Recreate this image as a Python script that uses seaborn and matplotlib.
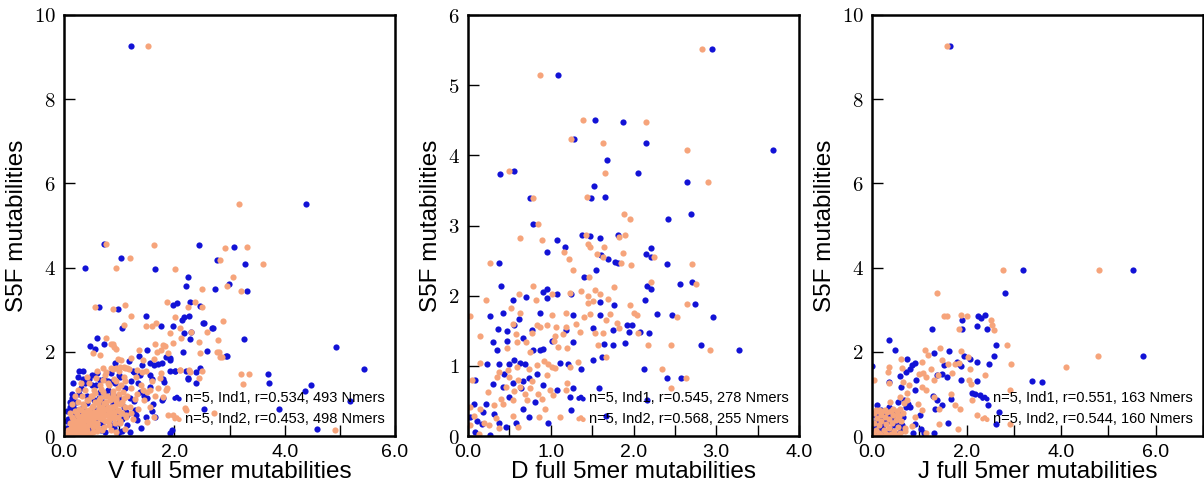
import numpy as np
import pandas as pd
import matplotlib
matplotlib.use("Agg")
import matplotlib.pyplot as plt
import seaborn as sns

# ---------------- DATA ----------------
panel_xlabels = ["V full 5mer mutabilities", "D full 5mer mutabilities", "J full 5mer mutabilities"]
ylabel = "S5F mutabilities"
legend_ind1 = ["n=5, Ind1, r=0.534, 493 Nmers", "n=5, Ind1, r=0.545, 278 Nmers", "n=5, Ind1, r=0.551, 163 Nmers"]
legend_ind2 = ["n=5, Ind2, r=0.453, 498 Nmers", "n=5, Ind2, r=0.568, 255 Nmers", "n=5, Ind2, r=0.544, 160 Nmers"]

# Panel V, Ind1 (blue)
v1_x = [1.21, 4.39, 0.72, 1.03, 0.38, 1.65, 2.44, 3.08, 2.77, 3.29, 2.25, 2.21, 2.74, 2.99, 3.32, 0.64, 0.98, 1.49,
        2.04, 1.98, 2.29, 2.47, 2.18, 2.26, 2.13, 1.76, 1.97, 2.52, 2.70, 1.05, 2.30, 2.17, 2.28, 3.26, 0.60, 0.47,
        0.56, 1.50, 2.16, 2.59, 2.94, 4.93, 5.44, 3.70, 3.72, 4.48, 4.37, 3.90, 4.59, 5.18, 1.95, 2.54, 2.47, 2.25,
        1.92, 2.02, 1.79, 1.77, 1.92, 0.28, 0.72, 0.92, 1.17, 1.36, 1.42, 1.56, 1.63, 1.85, 1.92, 2.01, 2.22, 2.40,
        2.24, 2.39, 0.34, 0.50, 0.65, 0.80, 1.00, 1.21, 1.26, 1.37, 1.60, 1.81, 1.55, 1.38, 1.50, 1.77, 1.61, 1.29,
        1.26, 0.98, 1.14, 1.49, 1.65, 1.32, 1.92, 1.20, 0.21, 0.17, 0.38, 0.11, 2.95, 2.53, 2.68,
        0.02, 0.05, 0.08, 0.10, 0.12, 0.15, 0.18, 0.20, 0.22, 0.25, 0.28, 0.30, 0.32, 0.35, 0.38, 0.40, 0.42, 0.45,
        0.47, 0.50, 0.52, 0.55, 0.58, 0.60, 0.62, 0.65, 0.68, 0.70, 0.72, 0.75, 0.78, 0.80, 0.82, 0.85, 0.88, 0.90,
        0.92, 0.95, 0.98, 1.00, 1.02, 1.05, 1.08, 1.10, 1.15, 1.20, 1.25, 1.30, 1.35, 1.40, 1.45, 1.55, 1.60, 1.70,
        1.80, 0.15, 0.10, 0.25, 0.05, 0.35,
        0.06, 0.11, 0.16, 0.19, 0.24, 0.27, 0.33, 0.36, 0.41, 0.44, 0.48, 0.53, 0.57, 0.63, 0.67, 0.71, 0.76, 0.83,
        0.87, 0.93, 0.97, 1.04, 1.12, 0.14, 0.31, 0.46, 0.58, 0.74, 0.89, 1.06]
v1_y = [9.26, 5.51, 4.56, 4.22, 3.99, 3.96, 4.53, 4.49, 4.18, 4.08, 3.77, 3.57, 3.48, 3.62, 3.44, 3.07, 3.01, 2.86,
        3.17, 3.10, 3.19, 3.09, 2.83, 2.86, 2.76, 2.61, 2.61, 2.68, 2.56, 2.56, 2.46, 2.44, 2.30, 2.30, 2.33, 2.13,
        2.06, 2.05, 2.00, 2.01, 1.89, 2.11, 1.58, 1.47, 1.27, 1.21, 1.08, 0.64, 0.16, 0.82, 0.14, 0.63, 1.61, 1.37,
        1.54, 1.55, 1.35, 1.73, 1.85, 1.54, 2.19, 1.73, 1.79, 1.90, 1.69, 1.74, 1.69, 1.87, 1.81, 1.55, 1.55, 1.51,
        1.36, 1.25, 1.35, 1.45, 1.33, 1.30, 1.44, 1.31, 1.53, 1.45, 1.35, 1.29, 1.17, 1.05, 0.91, 0.86, 0.75, 0.62,
        0.82, 0.82, 0.50, 0.44, 0.44, 0.38, 0.06, 0.10, 0.40, 1.25, 1.25, 0.70, 1.90, 2.68, 2.56,
        0.02, 0.20, 0.40, 0.10, 0.60, 0.30, 0.05, 0.50, 0.80, 0.20, 1.00, 0.45, 0.10, 0.70, 1.30, 0.30, 0.95, 0.05,
        0.60, 1.20, 0.35, 0.85, 0.15, 1.50, 0.60, 1.05, 0.30, 0.80, 1.35, 0.10, 0.55, 1.10, 0.35, 1.50, 0.75, 0.20,
        1.25, 0.50, 0.95, 0.10, 1.40, 0.40, 0.70, 1.15, 0.25, 0.90, 1.55, 0.50, 1.25, 0.20, 0.95, 1.45, 0.60, 1.70,
        0.90, 1.00, 0.80, 1.40, 0.60, 1.55,
        0.35, 0.15, 0.70, 0.42, 0.62, 0.08, 0.55, 0.25, 0.78, 0.48, 0.20, 0.66, 0.40, 0.90, 0.15, 0.55, 0.72, 0.25,
        0.98, 0.60, 0.30, 0.85, 0.58, 0.90, 1.15, 1.35, 1.20, 1.00, 1.30, 0.12]

# Panel V, Ind2 (orange)
v2_x = [1.53, 3.18, 0.76, 1.64, 2.91, 3.32, 1.20, 2.83, 3.61, 0.94, 2.02, 3.07, 2.96, 2.51, 3.20, 1.86, 2.37, 1.11,
        0.56, 0.89, 2.50, 2.25, 1.21, 2.02, 2.89, 1.67, 1.48, 1.59, 1.09, 2.10, 2.60, 2.31, 1.92, 2.79, 2.12, 0.77,
        1.65, 1.80, 1.97, 0.88, 2.81, 2.47, 2.83, 3.21, 3.35, 3.24, 4.92, 2.21, 2.11, 2.27, 2.51, 2.44, 1.50, 1.63,
        0.86, 0.91, 0.95, 0.53, 0.65, 0.98, 1.03, 1.21, 1.36, 1.44, 1.83, 1.89, 1.68, 1.76, 1.64, 2.77, 2.87, 2.45,
        2.10, 2.28, 0.77, 0.89, 1.01, 1.08, 1.14, 1.32, 1.41, 0.41, 0.71, 1.56, 1.86, 1.80, 1.89, 1.98, 2.19, 2.71,
        0.95, 1.11, 1.43, 1.74,
        0.05, 0.08, 0.10, 0.12, 0.15, 0.15, 0.18, 0.20, 0.20, 0.22, 0.24, 0.25, 0.26, 0.28, 0.30, 0.30, 0.32, 0.33,
        0.35, 0.35, 0.37, 0.38, 0.40, 0.40, 0.42, 0.43, 0.45, 0.45, 0.47, 0.48, 0.50, 0.50, 0.52, 0.53, 0.55, 0.55,
        0.57, 0.58, 0.60, 0.60, 0.62, 0.63, 0.65, 0.66, 0.68, 0.70, 0.70, 0.72, 0.73, 0.75, 0.76, 0.78, 0.80, 0.80,
        0.82, 0.84, 0.85, 0.86, 0.88, 0.90, 0.90, 0.92, 0.95, 0.97, 1.00, 1.00, 1.02, 1.05, 1.07, 1.10, 1.12, 1.15,
        1.18, 1.20, 1.22, 1.25, 1.28, 1.30, 1.33, 1.35, 1.40, 1.45, 1.48, 1.50, 1.55, 1.60, 1.65, 1.70, 1.75, 1.85,
        0.60, 0.70, 0.85, 0.95, 1.10, 0.25, 0.30, 0.20, 0.15, 0.10,
        0.12, 0.14, 0.17, 0.19, 0.21, 0.23, 0.26, 0.27, 0.29, 0.31, 0.34, 0.35, 0.37, 0.39, 0.41, 0.44, 0.45, 0.47,
        0.49, 0.52, 0.53, 0.55, 0.57, 0.60, 0.61, 0.63, 0.66, 0.67, 0.69, 0.71, 0.74, 0.75, 0.77, 0.79, 0.82, 0.83,
        0.85, 0.88, 0.89, 0.91, 0.94, 0.95, 0.97, 0.99, 1.02, 1.03, 1.05, 1.08, 1.09, 1.11,
        0.22, 0.27, 0.30, 0.34, 0.39, 0.42, 0.46, 0.51, 0.54, 0.58, 0.62, 0.67, 0.70, 0.74, 0.79, 0.82, 0.86, 0.91,
        0.94, 0.98, 0.31, 0.40, 0.52, 0.61, 0.69, 0.81, 0.92, 1.01, 1.13, 1.21]
v2_y = [9.26, 5.51, 4.56, 4.53, 4.46, 4.50, 4.22, 4.18, 4.08, 3.99, 3.96, 3.77, 3.57, 3.48, 3.44, 3.19, 3.19, 3.10,
        3.07, 3.01, 3.07, 3.07, 2.86, 2.83, 2.74, 2.69, 2.61, 2.61, 2.64, 2.56, 2.46, 2.46, 2.44, 2.28, 2.32, 2.33,
        2.18, 2.16, 2.20, 2.18, 2.00, 1.96, 1.88, 1.47, 1.47, 1.23, 0.14, 0.62, 1.57, 1.57, 1.54, 1.37, 0.34, 0.46,
        2.19, 2.12, 2.06, 1.96, 1.92, 1.84, 1.81, 1.86, 2.04, 1.81, 2.14, 1.96, 2.00, 2.04, 1.82, 2.00, 1.88, 2.24,
        1.57, 1.53, 1.53, 1.58, 1.63, 1.65, 1.61, 1.57, 1.53, 1.41, 1.33, 1.09, 1.15, 0.93, 0.50, 0.50, 0.66, 0.54,
        0.10, 0.16, 1.09, 1.37,
        0.05, 0.15, 0.30, 0.08, 0.22, 0.45, 0.12, 0.35, 0.60, 0.05, 0.25, 0.48, 0.80, 0.15, 0.38, 0.62, 0.95, 0.08,
        0.28, 0.50, 0.72, 1.10, 0.18, 0.42, 0.60, 0.85, 0.30, 1.25, 0.50, 0.05, 0.70, 0.95, 0.22, 0.40, 0.58, 1.10,
        0.80, 1.38, 0.12, 0.32, 0.50, 0.68, 0.90, 1.20, 0.40, 0.60, 1.05, 0.22, 0.78, 1.45, 0.50, 0.95, 0.35, 0.68,
        1.20, 0.85, 0.15, 0.55, 1.00, 0.42, 1.35, 0.72, 0.90, 1.15, 0.60, 1.55, 0.30, 0.80, 1.05, 1.30, 0.50, 0.95,
        1.60, 0.70, 1.15, 0.40, 0.88, 1.40, 1.00, 0.65, 1.20, 0.85, 1.55, 1.05, 0.70, 1.30, 0.95, 1.15, 1.50, 1.10,
        1.55, 1.62, 1.62, 1.62, 1.62, 1.10, 1.25, 0.95, 0.75, 0.55,
        0.20, 0.10, 0.40, 0.28, 0.18, 0.52, 0.35, 0.65, 0.25, 0.45, 0.75, 0.12, 0.58, 0.38, 0.85, 0.25, 0.62, 0.45,
        0.95, 0.32, 0.72, 0.48, 1.02, 0.28, 0.60, 0.85, 0.42, 1.12, 0.70, 0.52, 0.95, 0.35, 0.80, 1.25, 0.60, 0.45,
        0.90, 1.08, 0.70, 0.50, 1.30, 0.82, 0.62, 1.00, 0.75, 1.22, 0.55, 0.90, 1.40, 0.68,
        0.05, 0.12, 0.22, 0.30, 0.48, 0.15, 0.40, 0.55, 0.30, 0.45, 0.78, 0.60, 0.40, 0.65, 0.52, 0.38, 0.70, 0.58,
        0.85, 0.45, 0.02, 0.08, 0.10, 0.20, 0.15, 0.25, 0.30, 0.35, 0.45, 0.55]

# Panel D, Ind1 (blue)
d1_x = [2.95, 1.09, 1.54, 1.87, 1.28, 2.15, 3.68, 1.68, 0.39, 0.56, 2.06, 1.52, 0.75, 1.49, 1.65, 2.65, 2.69, 2.42,
        0.79, 1.38, 1.48, 1.59, 1.81, 1.07, 1.17, 0.96, 1.61, 1.69, 1.78, 1.81, 2.21, 2.15, 2.21, 0.37, 2.40, 1.40,
        1.55, 0.40, 2.56, 2.71, 2.16, 2.21, 0.95, 0.91, 1.08, 0.70, 1.25, 0.96, 0.54, 1.60, 1.76, 2.14, 2.74, 0.26,
        0.42, 0.62, 0.87, 1.27, 1.60, 2.28, 2.47, 2.96, 0.36, 0.47, 0.56, 0.77, 1.19, 1.51, 1.75, 1.92, 1.98, 1.94,
        2.08, 2.19, 0.30, 0.47, 0.66, 1.01, 1.27, 1.64, 1.75, 1.90, 2.81, 3.28, 0.35, 0.79, 0.87, 0.91, 0.56, 0.63,
        0.38, 0.50, 0.69, 1.11, 1.21, 1.51, 1.62, 1.37, 2.13, 2.40, 2.58, 0.23, 0.09, 0.44, 0.67, 0.74, 0.83, 0.30,
        0.42, 0.54, 0.64, 0.91, 1.07, 1.27, 1.58, 0.81, 1.23, 1.67, 2.16, 1.24, 0.97, 0.67, 0.74, 0.58, 0.46, 0.37,
        0.50, 0.22, 0.18, 0.07, 0.11, 0.02, 0.27, 0.08, 0.17, 0.32]
d1_y = [5.51, 5.14, 4.50, 4.47, 4.23, 4.18, 4.08, 3.94, 3.74, 3.77, 3.75, 3.57, 3.39, 3.39, 3.40, 3.62, 3.17, 3.09,
        3.02, 2.86, 2.85, 2.82, 2.86, 2.79, 2.70, 2.62, 2.58, 2.52, 2.48, 2.47, 2.68, 2.60, 2.55, 2.47, 2.45, 2.27,
        2.37, 2.14, 2.17, 2.20, 2.14, 2.10, 2.10, 2.05, 2.03, 1.98, 2.03, 1.96, 1.94, 1.91, 1.86, 1.94, 1.88, 1.71,
        1.75, 1.67, 1.75, 1.72, 1.72, 1.74, 1.72, 1.70, 1.53, 1.49, 1.58, 1.51, 1.51, 1.54, 1.51, 1.58, 1.58, 1.48,
        1.48, 1.47, 1.34, 1.36, 1.40, 1.36, 1.34, 1.31, 1.29, 1.33, 1.30, 1.23, 1.22, 1.23, 1.22, 1.24, 1.08, 1.04,
        1.02, 1.02, 1.03, 1.04, 1.03, 1.08, 1.13, 0.95, 0.95, 0.83, 0.82, 1.02, 0.80, 0.89, 0.79, 0.82, 0.88, 0.74,
        0.70, 0.75, 0.68, 0.72, 0.66, 0.69, 0.68, 0.49, 0.55, 0.28, 0.51, 0.37, 0.19, 0.38, 0.27, 0.18, 0.13, 0.18,
        0.56, 0.46, 0.34, 0.46, 0.22, 0.27, 0.02, 0.05, 0.17, 0.32]

# Panel D, Ind2 (orange)
d2_x = [2.83, 0.87, 1.39, 2.15, 1.25, 1.63, 2.65, 1.65, 0.50, 2.90, 0.78, 1.44, 0.85, 1.88, 1.96, 0.63, 0.90, 1.42,
        1.83, 1.90, 1.45, 1.48, 1.64, 1.56, 1.63, 1.16, 1.22, 1.87, 2.25, 1.27, 0.26, 1.85, 1.97, 2.71, 1.46, 2.21,
        2.76, 1.77, 0.79, 1.37, 1.54, 1.59, 0.62, 1.01, 1.23, 0.22, 0.82, 1.45, 1.45, 1.51, 1.69, 1.96, 2.65, 0.02,
        0.52, 0.63, 1.01, 1.19, 2.00, 2.04, 2.53, 1.40, 1.47, 1.67, 1.71, 0.54, 0.83, 0.87, 0.95, 1.06, 1.19, 1.31,
        1.80, 1.63, 1.53, 1.82, 2.06, 0.15, 0.58, 0.77, 1.05, 1.15, 1.35, 1.57, 2.18, 2.45, 2.92, 0.59, 0.70, 1.04,
        1.09, 1.20, 0.47, 0.75, 1.67, 0.14, 0.92, 0.97, 1.33, 0.38, 0.48, 0.59, 0.74, 0.83, 1.01, 1.05, 1.23, 2.34,
        2.63, 0.05, 0.35, 0.50, 0.60, 0.77, 0.95, 1.20, 2.45, 0.24, 0.46, 0.56, 0.63, 0.69, 0.75, 0.85, 0.99, 1.19,
        0.40, 0.54, 0.71, 0.89, 1.03, 0.31, 0.42, 0.93, 0.03, 0.15, 0.07, 0.34, 0.54, 0.60, 0.86, 1.11, 0.02, 0.13,
        0.19, 0.25, 0.37]
d2_y = [5.51, 5.14, 4.50, 4.47, 4.23, 4.18, 4.08, 3.75, 3.77, 3.62, 3.39, 3.40, 3.02, 3.17, 3.09, 2.82, 2.79, 2.86,
        2.84, 2.86, 2.73, 2.69, 2.70, 2.59, 2.55, 2.62, 2.52, 2.61, 2.55, 2.37, 2.47, 2.46, 2.43, 2.45, 2.27, 2.20,
        2.17, 2.13, 2.14, 2.06, 2.08, 2.03, 2.03, 2.03, 2.04, 1.94, 1.94, 2.00, 1.89, 1.93, 1.95, 1.86, 1.88, 1.71,
        1.83, 1.75, 1.72, 1.75, 1.75, 1.72, 1.70, 1.69, 1.74, 1.65, 1.74, 1.60, 1.58, 1.56, 1.58, 1.56, 1.56, 1.59,
        1.61, 1.47, 1.47, 1.54, 1.47, 1.42, 1.46, 1.47, 1.43, 1.46, 1.48, 1.30, 1.29, 1.30, 1.23, 1.34, 1.34, 1.35,
        1.27, 1.25, 1.25, 1.20, 1.13, 1.04, 1.07, 1.03, 1.06, 0.91, 0.94, 0.98, 0.96, 1.01, 0.98, 0.97, 0.98, 0.95,
        0.83, 0.80, 0.84, 0.84, 0.80, 0.79, 0.87, 0.75, 0.68, 0.63, 0.70, 0.64, 0.70, 0.60, 0.68, 0.60, 0.66, 0.65,
        0.53, 0.52, 0.51, 0.53, 0.58, 0.44, 0.46, 0.38, 0.41, 0.39, 0.29, 0.25, 0.29, 0.13, 0.27, 0.27, 0.15, 0.03,
        0.19, 0.15, 0.12]

# Panel J, Ind1 (blue)
j1_x = [1.65, 3.20, 5.51, 2.81, 2.25, 2.30, 2.39, 1.91, 1.91, 2.23, 2.43, 1.27, 0.37, 0.49, 2.63, 5.73, 1.63, 1.32,
        2.58, 1.95, 2.07, 2.23, 2.47, 0.75, 0.91, 1.79, 1.84, 1.88, 0.84, 0.80, 0.72, 0.01, 1.53, 1.89, 2.21, 0.37,
        0.94, 1.37, 1.49, 1.58, 3.39, 3.60, 2.11, 2.18, 2.28, 0.59, 0.61, 0.91, 1.30, 1.68, 2.46, 2.69, 2.63, 1.60,
        1.37, 1.47, 1.34, 1.01, 0.80, 0.56, 0.31, 0.17, 0.10, 0.27, 0.47, 0.63, 0.91, 1.04, 0.87, 1.32, 1.10, 0.61,
        0.17, 0.38, 0.06, 0.08, 0.37, 0.10, 0.77, 0.56, 0.67,
        0.03, 0.06, 0.10, 0.13, 0.16, 0.19, 0.23, 0.26, 0.29, 0.33, 0.36, 0.39, 0.43, 0.46, 0.50, 0.53, 0.58, 0.62,
        0.66, 0.72]
j1_y = [9.26, 3.95, 3.95, 3.40, 2.84, 2.81, 2.87, 2.75, 2.55, 2.61, 2.53, 2.55, 2.29, 2.04, 2.17, 1.89, 2.01, 1.96,
        1.89, 1.89, 1.84, 1.76, 1.72, 1.84, 1.74, 1.76, 1.72, 1.66, 1.68, 1.58, 1.52, 1.66, 1.68, 1.32, 1.30, 1.28,
        1.32, 1.44, 1.48, 1.40, 1.30, 1.28, 1.01, 0.99, 0.97, 1.42, 1.16, 1.09, 0.94, 0.87, 0.73, 0.57, 0.28, 0.32,
        0.85, 0.73, 0.65, 0.51, 0.69, 0.53, 0.49, 0.55, 0.39, 0.41, 0.31, 0.25, 0.29, 0.17, 0.08, 0.08, 0.08, 0.17,
        0.17, 0.13, 0.07, 0.28, 0.69, 0.73, 0.77, 0.81, 0.86,
        0.20, 0.50, 0.30, 0.05, 0.45, 0.62, 0.25, 0.05, 0.50, 0.35, 0.60, 0.15, 0.45, 0.25, 0.55, 0.05, 0.32, 0.12,
        0.45, 0.68]

# Panel J, Ind2 (orange)
j2_x = [1.59, 2.78, 4.80, 1.38, 1.52, 1.58, 1.89, 2.00, 1.84, 2.51, 2.54, 2.57, 2.86, 4.79, 4.11, 2.93, 1.13, 1.19,
        1.44, 1.89, 2.04, 0.61, 0.63, 0.33, 0.37, 1.05, 1.07, 1.24, 1.49, 1.61, 1.70, 1.75, 1.85, 2.07, 0.05, 0.35,
        0.65, 0.99, 1.15, 1.31, 1.39, 2.06, 2.09, 2.39, 0.78, 1.05, 1.15, 1.31, 1.67, 2.11, 0.59, 0.73, 0.38, 0.98,
        1.05, 1.42, 1.75, 1.87, 2.23, 1.42, 1.81, 2.92, 2.92, 0.91, 0.56, 0.84, 1.14, 0.70,
        0.02, 0.05, 0.05, 0.08, 0.10, 0.12, 0.14, 0.15, 0.18, 0.20, 0.20, 0.22, 0.25, 0.27, 0.30, 0.30, 0.32, 0.35,
        0.37, 0.40, 0.40, 0.42, 0.45, 0.47, 0.50, 0.52, 0.55, 0.57, 0.60, 0.60, 0.62, 0.65, 0.68, 0.70, 0.75, 0.15,
        0.08, 0.28, 0.45, 0.10, 0.35, 0.50]
j2_y = [9.26, 3.95, 3.95, 3.40, 2.84, 2.86, 2.87, 2.85, 2.55, 2.75, 2.63, 2.51, 2.17, 1.89, 1.63, 1.72, 2.04, 1.93,
        2.09, 2.01, 1.88, 1.84, 1.62, 1.52, 1.65, 1.76, 1.50, 1.58, 1.80, 1.72, 1.50, 1.72, 1.74, 1.60, 1.32, 1.26,
        1.28, 1.48, 1.40, 1.32, 1.44, 1.32, 1.24, 1.46, 1.20, 1.16, 1.09, 0.93, 0.99, 0.86, 0.93, 1.01, 0.81, 0.77,
        0.61, 0.63, 0.73, 0.65, 0.49, 0.29, 0.16, 0.28, 1.09, 0.45, 0.49, 0.23, 0.07, 0.13,
        0.05, 0.30, 0.55, 0.15, 0.42, 0.60, 0.08, 0.25, 0.50, 0.02, 0.35, 0.60, 0.15, 0.45, 0.05, 0.28, 0.58, 0.18,
        0.40, 0.05, 0.60, 0.30, 0.50, 0.12, 0.38, 0.60, 0.22, 0.48, 0.08, 0.65, 0.35, 0.55, 0.78, 0.20, 0.85, 0.62,
        0.62, 0.62, 0.65, 0.00, 0.00, 0.02]

panels = [
    (v1_x, v1_y, v2_x, v2_y),
    (d1_x, d1_y, d2_x, d2_y),
    (j1_x, j1_y, j2_x, j2_y),
]
xlims = [6, 4, 7]
ylims = [10, 6, 10]
xmajor = [1.0, 0.5, 1.0]
ystep = [2, 1, 2]

BLUE = "#1212d6"
ORANGE = "#f6a47b"

# ---------------- STYLE ----------------
sns.set_style("white")
plt.rcParams["font.family"] = ["Liberation Sans", "DejaVu Sans"]
plt.rcParams["mathtext.fontset"] = "cm"
for key in ["text.color", "axes.labelcolor", "xtick.color", "ytick.color", "axes.edgecolor"]:
    plt.rcParams[key] = "black"

fig = plt.figure(figsize=(12.04, 4.88), dpi=100)
W, H = 1204.0, 488.0
lefts = [64, 468, 872]
axw, axh = 331, 421
bottom = 488 - 436

for i, (x1, y1, x2, y2) in enumerate(panels):
    ax = fig.add_axes([lefts[i] / W, bottom / H, axw / W, axh / H])
    df1 = pd.DataFrame({"x": x1, "y": y1})
    df2 = pd.DataFrame({"x": x2, "y": y2})
    sns.scatterplot(data=df1, x="x", y="y", color=BLUE, s=20, linewidth=0, ax=ax, legend=False)
    sns.scatterplot(data=df2, x="x", y="y", color=ORANGE, s=20, linewidth=0, ax=ax, legend=False)

    ax.set_xlim(0, xlims[i])
    ax.set_ylim(0, ylims[i])

    xt = np.arange(0, xlims[i] + 1e-9, xmajor[i])
    ax.set_xticks(xt)
    ax.set_xticklabels([f"{v:.1f}" if k % 2 == 0 else "" for k, v in enumerate(xt)], fontsize=14)

    yt = np.arange(0, ylims[i] + 1e-9, ystep[i])
    ax.set_yticks(yt)
    ax.set_yticklabels([f"${int(v)}$" for v in yt], fontsize=15)

    ax.tick_params(direction="in", length=8, width=1, bottom=True, left=True, top=False, right=False,
                   pad=6, colors="black")
    for sp in ax.spines.values():
        sp.set_linewidth(1.8)
        sp.set_color("black")

    ax.set_xlabel(panel_xlabels[i], fontsize=17.5, labelpad=0, color="black")
    ax.set_ylabel(ylabel, fontsize=17.5, labelpad=4, color="black")

    ax.legend(handles=ax.collections[:2], labels=[legend_ind1[i], legend_ind2[i]],
              loc="lower right", frameon=False, fontsize=10.5, scatterpoints=3,
              handlelength=0.9, handletextpad=0.1, borderaxespad=0.3, labelspacing=0.45,
              markerscale=0.8)

fig.savefig("out.png", dpi=100)
